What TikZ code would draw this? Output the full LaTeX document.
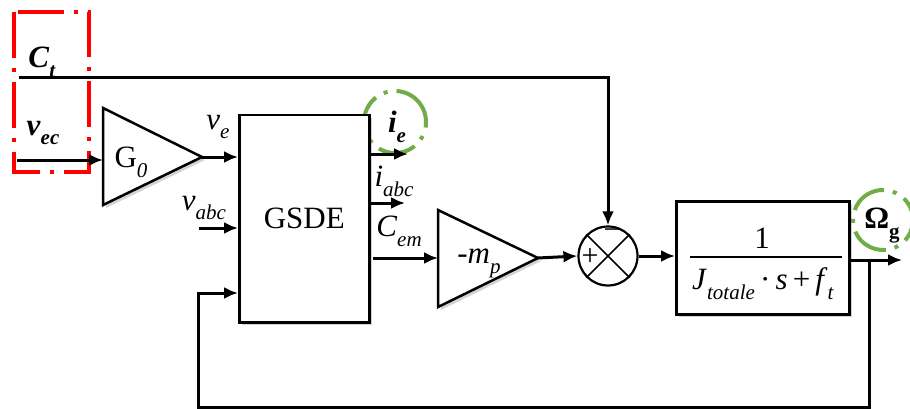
\documentclass[tikz,border=0pt]{standalone}
\usepackage{fontspec}
\setmainfont{Liberation Serif}
\usetikzlibrary{arrows.meta,shadows}
\newcommand\sbs[1]{\raisebox{-0.32em}{\fontsize{21}{21}\selectfont #1}}
\begin{document}
\begin{tikzpicture}[x=1pt,y=-1pt,
  conn/.style={line width=3pt,-{Latex[length=14pt,width=12pt]}},
  wire/.style={line width=3pt},
  blk/.style={draw,line width=2.5pt,fill=white,drop shadow={opacity=0.35,shadow xshift=3pt,shadow yshift=-3pt}},
  lbl/.style={inner sep=0pt,font=\fontsize{31}{33}\selectfont},
  redbox/.style={draw=red,line width=4.5pt,dash pattern=on 46pt off 10pt on 4pt off 10pt},
  greenc/.style={draw={rgb,255:red,112;green,173;blue,71},line width=4pt,dash pattern=on 38pt off 9pt on 4pt off 9pt}]
\useasboundingbox (0,0) rectangle (910,409);
\begin{scope}
\clip (0,0) rectangle (910,409);
% red dash-dot frame
\draw[redbox] (14,12) rectangle (89,172);
% green circles
\draw[greenc,rotate around={60:(395,122)}] (395,122) circle[radius=31];
\draw[greenc,rotate around={30:(883,220)}] (883,220) circle[radius=30];
\end{scope}
% blocks
\path[blk] (103,108) -- (202,157) -- (103,205) -- cycle;
\coordinate (g0in) at (103,157); \coordinate (g0out) at (202,157);
\node[blk,minimum width=130,minimum height=207,inner sep=0pt,anchor=north west] (gsde) at (238,114) {};
\node[lbl] at (gsde.center) {GSDE};
\path[blk] (438,210) -- (538,258) -- (438,307) -- cycle;
\coordinate (mpin) at (438,258); \coordinate (mpout) at (538,258);
\node[blk,minimum width=173,minimum height=113,inner sep=0pt,anchor=north west] (tf) at (675,200) {};
\node[draw,circle,line width=2.2pt,minimum size=59,inner sep=0pt] (sum) at (608,256) {};
\draw[line width=1.5pt] (sum.north west) -- (sum.south east) (sum.north east) -- (sum.south west);
\node[lbl,font=\fontsize{30}{30}\selectfont] at (590,257) {+};
\node[lbl,font=\fontsize{30}{30}\selectfont] at (612,234) {\textminus};
% labels
\node[lbl] (ct) at (42,62) {\textbf{\textit{C}}\sbs{\textbf{\textit{t}}}};
\node[lbl] (vec) at (43,133) {\textbf{\textit{v}}\sbs{\textbf{\textit{ec}}}};
\node[lbl] at (131,162) {G\sbs{\textit{0}}};
\node[lbl] at (218,127) {\textit{v}\sbs{\textit{e}}};
\node[lbl] at (204,208) {\textit{v}\sbs{\textit{abc}}};
\node[lbl] at (397,127) {\textbf{\textit{i}}\sbs{\textbf{\textit{e}}}};
\node[lbl] at (394,181) {\textit{i}\sbs{\textit{abc}}};
\node[lbl] at (399,231) {\textit{C}\sbs{\textit{em}}};
\node[lbl] at (479,263) {-\textit{m}\sbs{\textit{p}}};
\node[lbl] at (882,226) {\textbf{Ω}\sbs{\textbf{g}}};
\node[lbl] at (762,238) {1};
\draw[line width=1.5pt] (690,257) -- (842,257);
\node[lbl] at (763,284) {\textit{J}\sbs{\textit{totale}}\,·\,\textit{s}\,+\,\textit{f}\sbs{\textit{t}}};
% connectors
\coordinate (ctstart) at (19,78);
\draw[conn] (ctstart) -- (sum.north |- ctstart) -- (sum.north);
\coordinate (vecstart) at (17,160);
\draw[conn] (vecstart) -- (g0in |- vecstart);
\draw[conn] (g0out) -- (gsde.west |- g0out);
\coordinate (vabc) at (199,228);
\draw[conn] (vabc) -- (gsde.west |- vabc);
\coordinate (ie) at (408,154);
\draw[conn] (gsde.east |- ie) -- (ie);
\coordinate (iabc) at (405,203);
\draw[conn] (gsde.east |- iabc) -- (iabc);
\coordinate (cem) at (373,258);
\draw[conn] (cem) -- (mpin);
\draw[conn] (mpout) -- (sum.west);
\draw[conn] (sum.east) -- (tf.west |- sum.east);
\coordinate (outend) at (902,260);
\coordinate (br) at (869,260);
\draw[conn] (tf.east |- outend) -- (outend);
\coordinate (fbcorner) at (198,407);
\coordinate (fbin) at (198,293);
\draw[wire] (br) -- (br |- fbcorner) -- (fbcorner) -- (fbin);
\draw[conn] ([xshift=-1.5pt]fbin) -- (gsde.west |- fbin);
\end{tikzpicture}
\end{document}
